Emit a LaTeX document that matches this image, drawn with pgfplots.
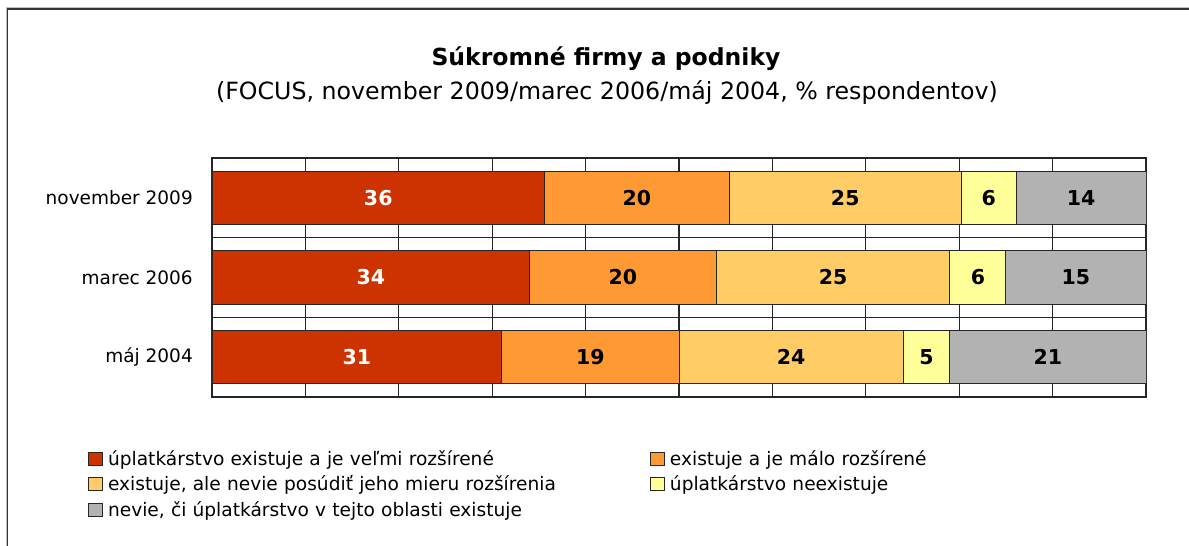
\documentclass[border=0pt]{standalone}
\usepackage{fontspec}
\setmainfont{DejaVu Sans}
\usepackage{pgfplots}
\usepackage{pgfplotstable}
\pgfplotsset{compat=1.18}

\definecolor{cA}{HTML}{CC3300}
\definecolor{cB}{HTML}{FF9933}
\definecolor{cC}{HTML}{FFCC66}
\definecolor{cD}{HTML}{FFFF99}
\definecolor{cE}{HTML}{B2B2B2}

% y: 2 = november 2009, 1 = marec 2006, 0 = máj 2004
% shares as drawn (100 % stacked)
\pgfplotstableread{
y x
2 35.6
1 34
0 31
}\sA
\pgfplotstableread{
y x
2 19.8
1 20
0 19
}\sB
\pgfplotstableread{
y x
2 24.8
1 25
0 24
}\sC
\pgfplotstableread{
y x
2 5.9
1 6
0 5
}\sD
\pgfplotstableread{
y x
2 13.9
1 15
0 21
}\sE

% value labels: middle of each segment, rounded value
\pgfplotstableread{
y cx lbl
2 17.8 36
1 17 34
0 15.5 31
}\lblWhite
\pgfplotstableread{
y cx lbl
2 45.5 20
2 67.8 25
2 83.15 6
2 93.05 14
1 44 20
1 66.5 25
1 82 6
1 92.5 15
0 40.5 19
0 62 24
0 76.5 5
0 89.5 21
}\lblBlack

\pgfplotsset{frame/.style={
  at={(212pt,149pt)}, anchor=south west,
  scale only axis, width=934pt, height=239pt,
  xmin=0, xmax=100, ymin=-0.5, ymax=2.5}}

\begin{document}
\begin{tikzpicture}[x=1pt,y=1pt]
\useasboundingbox (0,0) rectangle (1189,546);
\draw[black!25, line width=1pt] (6,-20) |- (1250,538.5);
\draw[black!80, line width=1.6pt] (7.5,-20) |- (1250,537);

\node[anchor=base, font=\fontsize{23.5}{28}\selectfont\bfseries] at (606,480) {Súkromné firmy a podniky};
\node[anchor=base, font=\fontsize{23.7}{28}\selectfont] at (607,446) {(FOCUS, november 2009/marec 2006/máj 2004, \% respondentov)};

\begin{axis}[
  frame,
  xbar stacked, bar width=0.667,
  xtick={0,10,...,100}, xticklabels={},
  ytick={0,1,2}, yticklabels={máj 2004, marec 2006, november 2009},
  extra y ticks={0.5,1.5}, extra y tick labels={},
  extra y tick style={grid=major},
  xmajorgrids,
  major tick length=0,
  grid style={black!85, line width=1.1pt},
  axis line style={black!85, line width=1.1pt},
  y tick label style={font=\fontsize{18.5}{22}\selectfont, inner sep=0pt, xshift=-19pt},
  every axis plot/.append style={draw=black!85, line width=0.9pt},
  legend columns=2, legend cell align=left,
  legend style={at={(-0.1328,-0.2218)}, anchor=north west, draw=none, fill=none,
    inner sep=0pt, row sep=5.5pt,
    nodes={inner sep=0pt, text height=15pt, text depth=5pt, text width=542pt, align=left,
      font=\fontsize{18.6}{22}\selectfont},
    /tikz/every odd column/.append style={column sep=5pt}},
  legend image code/.code={\draw[#1, draw=black!85, line width=0.9pt] (0pt,-5pt) rectangle (14pt,8pt);},
]
\addplot[fill=cA] table[x=x, y=y] {\sA};
\addplot[fill=cB] table[x=x, y=y] {\sB};
\addplot[fill=cC] table[x=x, y=y] {\sC};
\addplot[fill=cD] table[x=x, y=y] {\sD};
\addplot[fill=cE] table[x=x, y=y] {\sE};
\legend{úplatkárstvo existuje a je veľmi rozšírené, existuje a je málo rozšírené,
  {existuje, ale nevie posúdiť jeho mieru rozšírenia}, úplatkárstvo neexistuje,
  {nevie, či úplatkárstvo v tejto oblasti existuje}}
\end{axis}

% labels in an overlay axis with the same frame, not stacked
\begin{axis}[
  frame, hide axis,
  point meta=explicit symbolic,
  nodes near coords,
  every node near coord/.append style={anchor=center, inner sep=0pt,
    font=\fontsize{20.5}{24}\selectfont\bfseries},
]
\addplot[only marks, mark=*, mark size=0pt, mark options={draw=none, fill=none},
  every node near coord/.append style={text=white}] table[x=cx, y=y, meta=lbl] {\lblWhite};
\addplot[only marks, mark=*, mark size=0pt, mark options={draw=none, fill=none},
  every node near coord/.append style={text=black}] table[x=cx, y=y, meta=lbl] {\lblBlack};
\end{axis}
\end{tikzpicture}
\end{document}
